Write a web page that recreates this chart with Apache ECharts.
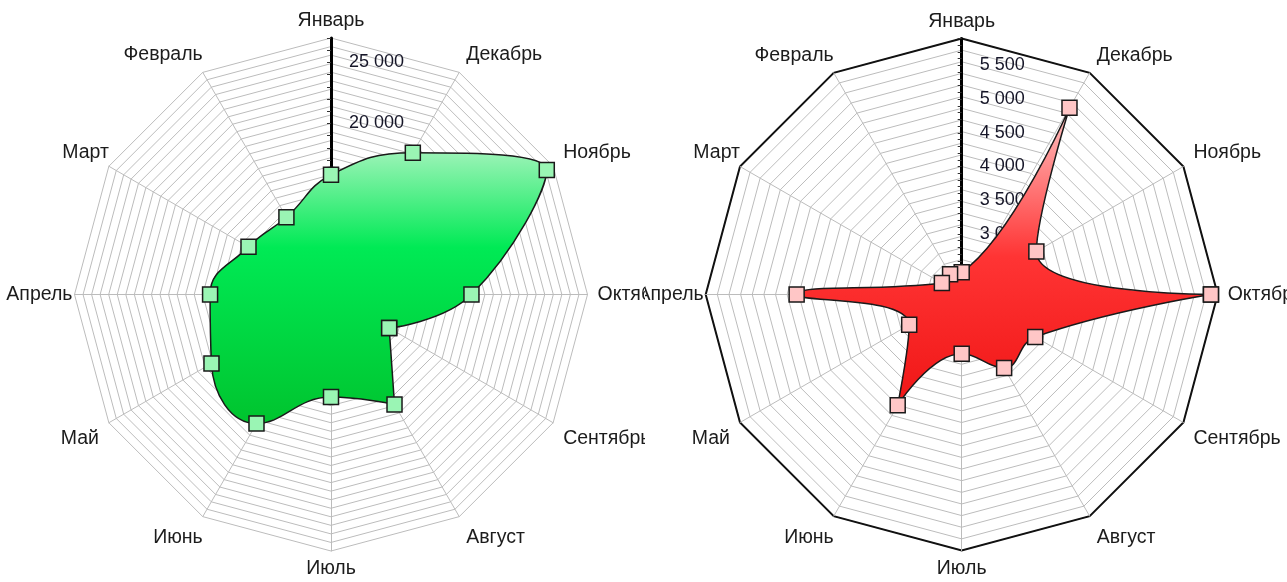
<!DOCTYPE html>
<html>
<head>
<meta charset="utf-8">
<script src="https://cdn.jsdelivr.net/npm/echarts@6/dist/echarts.min.js"></script>
<style>
  html, body { margin: 0; padding: 0; background: #fff; }
  .chart { position: absolute; top: 0; height: 582px; overflow: hidden; }
  #left { left: 0; width: 645px; }
  #right { left: 645px; width: 642px; }
</style>
</head>
<body>
<div id="left" class="chart"></div>
<div id="right" class="chart"></div>
<script>
// месяцы по кругу (против часовой стрелки от верха)
const months = ['Январь', 'Февраль', 'Март', 'Апрель', 'Май', 'Июнь', 'Июль', 'Август', 'Сентябрь', 'Октябрь', 'Ноябрь', 'Декабрь']

// левая диаграмма
const leftValues = [15800, 13300, 13800, 15900, 17300, 18200, 14400, 16400, 11500, 17500, 26400, 19400]
const leftMin = 6000
const leftMax = 27000
const leftLabelStep = 5000

// правая диаграмма
const rightValues = [2430, 2445, 2440, 4550, 3000, 4000, 2980, 3360, 3360, 5800, 3380, 5300]
const rightMin = 2100
const rightMax = 5900
const rightLabelStep = 500

const fmt = v => String(v).replace(/\B(?=(\d{3})+(?!\d))/g, ' ')

// отступы подписей месяцев [верх, право, низ, лево]
const namePads = [
  [0, 0, 14, 0],   // Январь
  [0, 0, 35, 0],   // Февраль
  [0, 0, 28, 0],   // Март
  [0, 2, 0, 0],    // Апрель
  [32, 10, 0, 0],  // Май
  [42, 0, 0, 0],   // Июнь
  [16, 0, 0, 0],   // Июль
  [42, 0, 0, 7],   // Август
  [32, 0, 0, 10],  // Сентябрь
  [0, 0, 0, 10],   // Октябрь
  [0, 0, 28, 10],  // Ноябрь
  [0, 0, 35, 7]    // Декабрь
]

const nameRich = {}
namePads.forEach((p, i) => {
  nameRich['m' + i] = {
    color: '#1c1c1c',
    fontSize: 19.5,
    lineHeight: 20,
    fontFamily: 'Liberation Sans, Arial, sans-serif',
    padding: p
  }
})

// точки [радиус, угол], начиная с месяца start, чтобы излом сглаживания пришёлся на острый угол
const buildPoints = (values, start) => {
  const pts = []
  for (let k = 0; k <= values.length; k++) {
    const i = (start + k) % values.length
    pts.push([values[i], i * 30])
  }
  return pts
}

const makeOption = (cfg) => {
  const radars = [{
    center: cfg.center,
    radius: cfg.radius,
    startAngle: 90,
    shape: 'polygon',
    splitNumber: cfg.rings,
    indicator: months.map(m => ({ name: m, min: cfg.min, max: cfg.max })),
    axisName: {
      formatter: (name) => '{m' + months.indexOf(name) + '|' + name + '}',
      rich: nameRich
    },
    nameGap: 0,
    splitArea: { show: false },
    splitLine: { lineStyle: { color: '#bcbcbc', width: 1 } },
    axisLine: { lineStyle: { color: '#bcbcbc', width: 1 } }
  }]
  if (cfg.outline) {
    radars.push({
      center: cfg.center,
      radius: cfg.radius,
      startAngle: 90,
      shape: 'polygon',
      splitNumber: 1,
      indicator: months.map(m => ({ name: m, min: cfg.min, max: cfg.max })),
      axisName: { show: false },
      splitArea: { show: false },
      splitLine: { lineStyle: { color: '#111', width: 2 } },
      axisLine: { show: false }
    })
  }
  return {
    animation: false,
    radar: radars,
    polar: { center: cfg.center, radius: cfg.radius },
    angleAxis: {
      type: 'value', min: 0, max: 360, startAngle: 90, clockwise: false, show: false
    },
    radiusAxis: {
      type: 'value',
      min: cfg.min,
      max: cfg.max,
      interval: cfg.tickStep,
      z: 1,
      axisLine: { lineStyle: { color: '#000', width: 3 } },
      axisTick: { length: 4, lineStyle: { color: '#333', width: 1 } },
      axisLabel: {
        align: 'left',
        verticalAlign: 'middle',
        color: '#161628',
        fontSize: 18,
        fontFamily: 'Liberation Sans, Arial, sans-serif',
        margin: -18,
        formatter: v => (v % cfg.labelStep === 0 ? fmt(v) : '')
      },
      splitLine: { show: false }
    },
    series: [{
      type: 'line',
      coordinateSystem: 'polar',
      z: 3,
      smooth: 0.45,
      data: buildPoints(cfg.values, cfg.start),
      symbol: 'rect',
      symbolSize: 15,
      itemStyle: { color: cfg.markColor, borderColor: '#1a1a1a', borderWidth: 1.5 },
      lineStyle: { color: '#1a1a1a', width: 1.5 },
      areaStyle: {
        opacity: 1,
        color: new echarts.graphic.LinearGradient(0, 0, 0, 1, cfg.gradient)
      }
    }]
  }
}

const leftChart = echarts.init(document.getElementById('left'))
leftChart.setOption(makeOption({
  center: [331, 294.5],
  radius: 256.5,
  rings: 30,
  min: leftMin,
  max: leftMax,
  tickStep: 1000,
  labelStep: leftLabelStep,
  values: leftValues,
  start: 8,
  markColor: '#9af5b4',
  gradient: [
    { offset: 0, color: '#9af3b6' },
    { offset: 0.35, color: '#00ea55' },
    { offset: 1, color: '#00c42e' }
  ]
}))

const rightChart = echarts.init(document.getElementById('right'))
rightChart.setOption(makeOption({
  center: [316.7, 294.5],
  radius: 256,
  rings: 22,
  outline: true,
  min: rightMin,
  max: rightMax,
  tickStep: 100,
  labelStep: rightLabelStep,
  values: rightValues,
  start: 9,
  markColor: '#ffc6c6',
  gradient: [
    { offset: 0, color: '#ffc4c4' },
    { offset: 0.5, color: '#ff3434' },
    { offset: 1, color: '#f01616' }
  ]
}))
</script>
</body>
</html>
